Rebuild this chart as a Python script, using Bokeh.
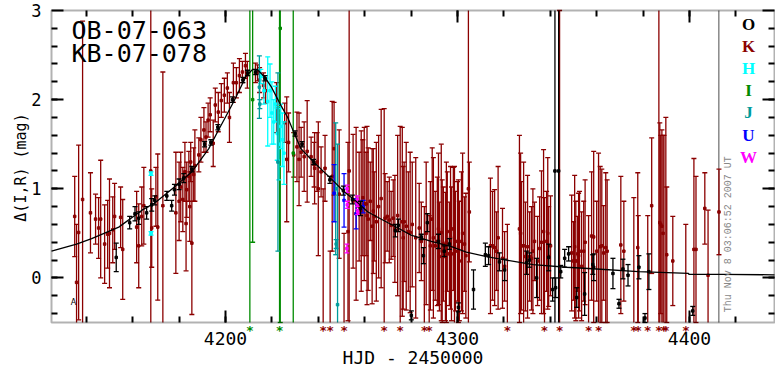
import numpy as np
from bokeh.plotting import figure
from bokeh.models import (Range1d, LinearAxis, FixedTicker, Label, BoxAnnotation)
from bokeh.core.properties import value
from bokeh.embed import file_html
from bokeh.resources import INLINE

# ---------------- data (HJD-2450000, delta mag, error) ----------------
k_t = [4135.0, 4135.8, 4136.7, 4138.4, 4141.8, 4144.0, 4145.3, 4146.2, 4147.9, 4149.2,
       4150.0, 4151.4, 4152.2, 4154.8, 4155.7, 4161.7, 4162.6, 4163.9, 4164.8, 4167.8,
       4168.2, 4170.0, 4170.8, 4173.0, 4178.6, 4180.0, 4180.7, 4181.6, 4182.5, 4183.0,
       4183.3, 4184.2, 4184.6, 4185.0, 4185.5, 4186.3, 4186.8, 4188.5, 4189.4, 4190.7,
       4191.6, 4192.5, 4193.4, 4194.7, 4195.6, 4196.9, 4198.2, 4199.5, 4200.8, 4201.7,
       4203.4, 4204.7, 4206.0, 4207.3, 4208.6, 4209.4, 4212.9, 4213.8, 4214.7, 4216.4,
       4217.3, 4222.0, 4225.5, 4226.4, 4227.2, 4229.4, 4230.8, 4231.7, 4232.6, 4233.9,
       4235.2, 4236.9, 4238.2, 4238.4, 4239.5, 4240.0, 4241.2, 4242.1, 4242.9, 4245.1,
       4246.0, 4246.8, 4249.0, 4251.1, 4252.8, 4253.3, 4255.0, 4256.3, 4257.6, 4259.8,
       4260.6, 4261.5, 4262.4, 4263.2, 4264.1, 4265.0, 4267.1, 4268.4, 4268.8, 4269.7,
       4270.6, 4271.4, 4272.3, 4275.3, 4276.2, 4277.0, 4277.9, 4278.8, 4279.6, 4283.5,
       4284.4, 4285.7, 4287.8, 4288.3, 4289.1, 4290.4, 4291.3, 4292.2, 4293.0, 4293.9,
       4294.8, 4295.6, 4296.5, 4297.4, 4298.2, 4299.1, 4300.0, 4300.8, 4301.7, 4303.0,
       4304.7, 4305.1, 4314.2, 4315.1, 4316.0, 4316.8, 4319.4, 4320.3, 4321.5, 4326.7,
       4327.6, 4328.5, 4329.3, 4331.1, 4331.9, 4333.2, 4334.5, 4335.4, 4337.1, 4337.5,
       4338.4, 4339.3, 4340.1, 4344.0, 4349.2, 4350.0, 4351.0, 4351.8, 4352.6, 4353.5,
       4354.4, 4356.5, 4357.8, 4358.7, 4360.0, 4360.8, 4362.2, 4363.0, 4363.9, 4370.4,
       4371.7, 4376.0, 4377.7, 4377.9, 4382.0, 4383.7, 4386.8, 4387.2, 4388.1, 4389.0,
       4389.8, 4390.2, 4392.8, 4398.4, 4401.9, 4402.8, 4406.6, 4408.0, 4412.7,
       # dense stretches after the peak
       4258.5, 4259.2, 4261.0, 4263.7, 4266.0, 4273.0, 4274.2, 4276.6, 4280.5, 4282.0,
       4286.5, 4289.6, 4291.8, 4293.4, 4295.2, 4297.0, 4298.7, 4300.4, 4302.2, 4303.6,
       4317.5, 4327.2, 4330.2, 4332.5, 4336.2, 4338.9, 4350.5, 4352.2, 4355.0, 4361.5,
       4364.5, 4387.6, 4388.6]
k_m = [0.69, -0.05, 0.51, 0.88, 0.73, 0.66, 0.56, 0.66, 0.38, 0.49,
       0.50, 0.54, 0.69, 0.68, 0.32, 0.57, 0.36, 0.69, 0.81, 1.20,
       0.56, 0.91, 0.57, 0.81, 0.73, 0.86, 1.02, 0.88, 1.19, 0.61,
       0.99, 1.14, 0.80, 1.30, 0.39, 1.16, 1.26, 1.38, 1.55, 1.66,
       1.58, 1.77, 1.83, 1.51, 1.94, 1.86, 1.99, 2.05, 2.13, 1.80,
       2.19, 2.19, 2.27, 2.31, 2.38, 2.28, 2.30, 2.30, 2.22, 2.16,
       2.10, 1.91, 1.74, 1.33, 1.52, 1.38, 1.47, 1.33, 1.41, 1.36,
       1.42, 1.36, 1.27, 1.23, 1.30, 1.00, 1.19, -0.80, 1.23, -1.20,
       1.14, 1.45, 0.94, -1.00, 0.52, 1.20, 0.86, 0.72, 0.80, 0.83,
       0.83, 0.66, 0.86, 0.58, 0.69, 0.63, 0.89, -1.00, 0.67, 0.69,
       0.65, 0.59, 0.67, -0.80, 0.63, 0.63, 0.58, 0.52, 0.51, 0.56,
       0.41, -0.90, -0.80, 0.36, 0.66, 0.36, 0.41, 0.24, 0.51, 0.38,
       0.24, 0.52, 0.27, 0.27, 0.55, 0.30, 0.41, 0.19, 0.41, 0.38,
       1.00, 0.74, 0.36, 0.36, 0.34, 0.30, 0.22, 0.13, -0.80, 0.55,
       0.36, 0.36, 0.24, 0.24, 0.22, 0.41, 0.19, 0.33, 0.52, -0.90,
       0.41, 0.24, 0.36, -0.80, 0.28, 0.19, 0.19, 0.27, 0.30, 0.13,
       0.30, -0.90, 0.47, 0.46, 0.30, -1.00, 0.36, 0.28, 0.34, 0.37,
       0.30, -0.90, 0.34, -0.90, -0.80, 0.81, -0.60, 0.62, 0.58, -0.90,
       -0.80, 0.26, 0.19, -0.90, 0.32, 0.32, 0.78, 0.03, 0.74,
       0.75, 0.90, 0.70, 0.75, 0.80, 0.55, 0.70, 0.45, 0.60, 0.45,
       0.50, 0.45, 0.55, 0.30, 0.40, 0.45, 0.35, 0.30, 0.50, 0.25,
       0.45, 0.50, 0.35, 0.30, 0.40, 0.50, 0.35, 0.25, 0.40, 0.35,
       0.30, 0.60, 0.50]
k_e = [0.45, 0.65, 0.98, 2.00, 0.45, 0.28, 0.34, 0.66, 0.44, 0.38,
       0.61, 0.37, 0.37, 0.34, 0.56, 0.40, 0.47, 0.33, 0.43, 2.50,
       0.44, 0.33, 0.82, 1.50, 0.68, 0.44, 0.39, 0.36, 0.33, 0.53,
       0.31, 0.28, 0.39, 0.22, 0.80, 0.30, 0.40, 0.19, 0.25, 0.25,
       0.17, 0.19, 0.19, 0.26, 0.19, 0.22, 0.19, 0.19, 0.17, 0.28,
       0.22, 0.17, 0.19, 0.12, 0.14, 0.15, 0.11, 0.09, 0.14, 0.14,
       0.14, 0.28, 0.22, 0.70, 0.33, 0.25, 0.39, 0.52, 0.28, 0.39,
       0.57, 0.22, 0.25, 0.40, 0.33, 0.75, 0.28, 1.80, 0.37, 1.50,
       0.84, 0.52, 0.72, 1.50, 1.00, 2.20, 0.75, 0.97, 0.61, 0.86,
       0.58, 0.80, 0.44, 0.87, 0.50, 0.89, 1.00, 2.90, 0.50, 0.39,
       0.48, 0.38, 0.43, 2.50, 1.06, 0.67, 0.94, 0.67, 0.90, 0.50,
       0.44, 1.70, 1.50, 0.72, 0.80, 0.61, 0.72, 0.61, 0.99, 0.64,
       0.72, 0.67, 0.58, 0.75, 0.69, 0.67, 0.67, 0.67, 0.78, 0.53,
       2.20, 0.56, 0.76, 0.61, 0.65, 0.44, 0.56, 0.39, 1.40, 1.05,
       0.72, 0.94, 0.61, 0.50, 0.58, 0.44, 0.50, 0.58, 0.92, 1.80,
       0.56, 0.56, 0.56, 3.80, 0.65, 0.44, 0.67, 0.42, 0.67, 0.61,
       0.56, 1.60, 0.72, 0.96, 0.56, 2.40, 0.86, 0.53, 0.84, 0.77,
       0.56, 1.80, 0.84, 1.60, 1.50, 0.76, 3.90, 1.12, 1.08, 2.50,
       2.60, 0.76, 0.50, 1.50, 1.02, 0.82, 0.40, 0.73, 0.48,
       0.90, 0.65, 1.00, 0.70, 0.80, 0.60, 0.90, 0.80, 0.70, 0.90,
       0.80, 0.90, 0.85, 0.80, 0.90, 0.80, 0.90, 0.80, 0.90, 0.70,
       0.80, 0.90, 0.80, 0.70, 0.80, 0.85, 0.80, 0.70, 0.70, 0.90,
       0.80, 1.00, 1.10]

o_t = [4152.9, 4158.7, 4161.0, 4162.6, 4166.0, 4168.2, 4169.5, 4174.7, 4176.8, 4178.0,
       4180.0, 4182.0, 4185.5, 4191.0, 4193.7, 4196.7, 4203.0, 4207.5, 4209.5, 4213.0,
       4217.0, 4230.0, 4233.0, 4238.0, 4245.0, 4250.8, 4254.7, 4258.2, 4273.2, 4274.5,
       4280.1, 4284.4, 4285.3, 4287.0, 4291.8, 4294.3, 4296.5, 4300.4, 4306.9, 4312.0,
       4313.4, 4318.1, 4320.3, 4329.8, 4331.0, 4334.1, 4339.3, 4341.0, 4342.0, 4342.3,
       4343.6, 4344.5, 4346.2, 4347.9, 4351.4, 4354.8, 4358.3, 4358.7, 4367.0, 4369.6,
       4371.3, 4373.5, 4378.2, 4380.8, 4382.5, 4401.4]
o_m = [0.23, 0.62, 0.72, 0.67, 0.73, 0.82, 0.87, 0.92, 0.81, 0.99,
       1.05, 1.12, 1.22, 1.50, 1.52, 1.69, 2.00, 2.22, 2.30, 2.31,
       2.24, 1.62, 1.50, 1.30, 1.10, 0.98, 0.88, 0.78, 0.53, 0.59,
       -0.42, 0.46, 0.25, 0.62, 0.41, 0.30, 0.38, -0.33, -0.13, 0.26,
       0.25, 0.18, 0.09, 0.17, 0.20, 0.00, 0.23, -0.13, 1.20, -0.11,
       1.20, 0.07, 0.22, 0.27, -0.22, -0.18, 0.15, 0.12, 0.05, -0.29,
       0.10, 0.03, 0.12, -0.45, 0.07, -0.37]
o_e = [0.16, 0.07, 0.08, 0.07, 0.07, 0.07, 0.05, 0.05, 0.06, 0.06,
       0.06, 0.05, 0.03, 0.03, 0.03, 0.03, 0.03, 0.03, 0.03, 0.03,
       0.03, 0.03, 0.03, 0.03, 0.04, 0.05, 0.05, 0.08, 0.07, 0.07,
       0.05, 0.03, 0.09, 0.10, 0.08, 0.06, 0.06, 0.05, 0.22, 0.13,
       0.10, 0.10, 0.12, 0.13, 0.08, 0.22, 0.15, 0.13, 3.00, 0.11,
       3.00, 0.07, 0.10, 0.08, 0.11, 0.24, 0.11, 0.15, 0.17, 0.05,
       0.11, 0.12, 0.13, 0.05, 0.20, 0.05]

h_t = [4167.9, 4167.9, 4215.2, 4216.6, 4218.2, 4219.2, 4220.0, 4220.8, 4221.5, 4222.3,
       4223.0, 4223.8, 4224.5, 4225.2]
h_m = [1.17, 0.50, 2.26, 2.10, 1.98, 2.10, 1.85, 1.75, 1.95, 1.62, 1.50, 1.70, 1.55, 1.40]
h_e = [0.02, 0.02, 0.08, 0.15, 0.50, 0.30, 0.35, 0.25, 0.20, 0.30, 0.40, 0.25, 0.30, 0.35]

i_t = [4210.5, 4211.7, 4223.3, 4223.6, 4229.2]
i_m = [-1.00, 2.00, -1.00, 2.80, 1.40]
i_e = [4.50, 1.60, 4.50, 3.30, 2.50]

j_t = [4214.6, 4214.8, 4222.6, 4247.5, 4247.7, 4248.3]
j_m = [2.14, 1.95, 1.30, 1.00, 0.38, -0.30]
j_e = [0.35, 0.05, 1.00, 0.74, 0.05, 1.80]

u_t = [4246.8, 4251.1, 4256.3, 4259.3]
u_m = [0.95, 0.87, 0.72, 0.80]
u_e = [0.32, 0.30, 0.17, 0.07]

w_t = [4252.4, 4252.5, 4252.3, 4256.8, 4256.9, 4257.0]
w_m = [1.00, 0.82, 0.33, 0.88, 0.83, 0.74]
w_e = [0.04, 0.04, 0.05, 0.04, 0.03, 0.03]

model_t = [4125.0, 4135.8, 4142.3, 4154.0, 4164.0, 4169.5, 4178.0, 4185.5, 4192.8, 4197.0,
           4199.5, 4203.8, 4208.8, 4211.7, 4214.0, 4216.7, 4219.6, 4224.0, 4226.8, 4229.5,
           4232.5, 4238.0, 4246.8, 4251.0, 4256.3, 4261.4, 4267.8, 4274.3, 4280.0, 4288.7,
           4297.4, 4303.8, 4312.5, 4321.0, 4332.6, 4347.0, 4360.0, 4378.0, 4399.6, 4399.7,
           4414.0, 4436.0]
model_m = [0.30, 0.38, 0.44, 0.57, 0.76, 0.84, 1.02, 1.19, 1.45, 1.66,
           1.78, 1.99, 2.26, 2.34, 2.33, 2.26, 2.15, 1.93, 1.80, 1.63,
           1.45, 1.30, 1.08, 0.97, 0.86, 0.74, 0.65, 0.56, 0.48, 0.41,
           0.35, 0.29, 0.24, 0.20, 0.15, 0.12, 0.10, 0.07, 0.05, 0.04,
           0.04, 0.035]

series_names = ["O", "K", "H", "I", "J", "U", "W"]
series_colors = ["#000000", "#8b0000", "#00ffff", "#008b00", "#009b9b", "#0000ff", "#ff00ff"]

x_major = [4200, 4300, 4400]
y_major = [0, 1, 2, 3]

now_hjd = 4412.63
stamp = "Thu Nov  8 03:06:52 2007 UT"
event_names = ["OB-07-063", "KB-07-078"]

# ---------------- layout (box in data units, pixel scale) ----------------
W, H = 775, 368
BOX_L, BOX_T, BOX_R, BOX_B = 51, 10, 774, 322   # box edges on the canvas (px)
X0 = 4125.0
Y0, Y1 = -0.5, 3.0
XS = 2.32                                         # px per day
YS = (BOX_B - BOX_T) / (Y1 - Y0)                  # px per mag
X1 = X0 + (BOX_R - BOX_L) / XS

xr = Range1d(X0 - BOX_L / XS, X0 + (W - BOX_L) / XS)
yr = Range1d(Y1 - (H - BOX_T) / YS, Y1 + BOX_T / YS)


def cx(px):      # canvas pixel -> data x
    return X0 + (px - BOX_L) / XS


def cy(py):      # canvas pixel -> data y
    return Y1 - (py - BOX_T) / YS


p = figure(width=W, height=H, output_backend="svg", toolbar_location=None,
           x_range=xr, y_range=yr, x_axis_location=None, y_axis_location=None,
           min_border=0, min_border_left=0, min_border_right=0,
           min_border_top=0, min_border_bottom=0)
p.grid.grid_line_color = None
p.outline_line_color = None
p.background_fill_color = "white"
p.border_fill_color = "white"

x_minor = list(np.arange(4140, X1, 20))
y_minor = list(np.round(np.arange(-0.4, 3.0, 0.2), 2))


def tick_axis(side, loc, majors, minors, labels, font_size="18px"):
    ax = LinearAxis(fixed_location=loc,
                    ticker=FixedTicker(ticks=majors if labels else [], minor_ticks=minors))
    ax.axis_line_color = None
    ax.major_tick_in = 12
    ax.major_tick_out = 0
    ax.minor_tick_out = 0
    ax.major_tick_line_width = 2
    ax.minor_tick_line_width = 2
    ax.major_label_text_font = "DejaVu Sans Mono"
    ax.major_label_text_font_size = font_size
    ax.major_label_text_color = "black"
    p.add_layout(ax, side)
    return ax


bx = tick_axis("below", Y0, x_major, x_minor, True)
bx.minor_tick_in = 6
bx.major_label_standoff = 9
lx = tick_axis("left", X0, y_major, y_minor, True, "17px")
lx.minor_tick_in = 6
lx.major_label_standoff = 10
for side, loc, mj, mn in [("above", Y1, x_major, x_minor), ("right", X1, y_major, y_minor)]:
    a1 = tick_axis(side, loc, [], mn, False)
    a1.minor_tick_in = 6
    a2 = tick_axis(side, loc, [], mj, False)
    a2.minor_tick_in = 12

p.add_layout(BoxAnnotation(left=X0, right=X1, bottom=Y0, top=Y1, fill_alpha=0,
                           line_color="black", line_width=2, level="overlay"))

# current-time marker
p.segment([now_hjd], [Y0], [now_hjd], [Y1], line_color="#888888", line_width=1.5)

stars_x, stars_c = [], []


def draw(t, m, e, color, lw=1.3):
    t = np.asarray(t, float)
    m = np.asarray(m, float)
    e = np.asarray(e, float)
    lo, hi = m - e, m + e
    vis = (hi > Y0) & (lo < Y1)
    p.segment(t[vis], np.clip(lo[vis], Y0, Y1), t[vis], np.clip(hi[vis], Y0, Y1),
              line_color=color, line_width=lw)
    ct = np.r_[t, t]
    cyv = np.r_[lo, hi]
    cin = (cyv >= Y0) & (cyv <= Y1)
    p.scatter(ct[cin], cyv[cin], marker="dash", size=5, line_color=color, line_width=lw)
    pin = (m >= Y0) & (m <= Y1)
    p.scatter(t[pin], m[pin], marker="square", size=2.5, color=color)
    for tt, mm in zip(t, m):
        if mm < Y0:
            stars_x.append(tt)
            stars_c.append(color)


draw(k_t, k_m, k_e, series_colors[1])
draw(i_t, i_m, i_e, series_colors[3])
draw(h_t, h_m, h_e, series_colors[2])
draw(j_t, j_m, j_e, series_colors[4])
draw(u_t, u_m, u_e, series_colors[5])
draw(w_t, w_m, w_e, series_colors[6])
draw(o_t, o_m, o_e, series_colors[0])

# model curve (cut at the box edge)
mt = np.asarray(model_t, float)
mmv = np.asarray(model_m, float)
keep = mt < X1
p.line(np.r_[mt[keep], X1], np.r_[mmv[keep], np.interp(X1, mt, mmv)],
       line_color="black", line_width=1.3)

# off-scale markers below the box
p.text(x=stars_x, y=[cy(330)] * len(stars_x), text=["*"] * len(stars_x),
       text_color=stars_c, text_align="center", text_baseline="alphabetic",
       text_font=value("DejaVu Sans"), text_font_size="13px", text_font_style="bold")

# event names
for i, nm in enumerate(event_names):
    p.add_layout(Label(x=cx(71), y=cy(30 + 22.5 * i), text=nm,
                       text_font="DejaVu Sans Mono", text_font_size="25px",
                       text_color="black", text_baseline="middle"))

# legend letters
for i, (nm, col) in enumerate(zip(series_names, series_colors)):
    p.add_layout(Label(x=cx(748), y=cy(23.5 + 22.2 * i), text=nm,
                       text_font="Liberation Serif", text_font_size="17px",
                       text_font_style="bold", text_color=col,
                       text_align="center", text_baseline="middle"))

# time stamp
p.add_layout(Label(x=cx(727.5), y=cy(311.7), text=stamp, angle=np.pi / 2,
                   text_font="Liberation Mono", text_font_size="10px", text_color="#888888",
                   text_align="left", text_baseline="middle"))

# small corner mark
p.add_layout(Label(x=cx(73), y=cy(302), text="A", text_font="DejaVu Sans",
                   text_font_size="8px", text_color="black", text_align="center",
                   text_baseline="middle"))

# axis titles
p.add_layout(Label(x=cx(412.5), y=cy(356.5), text="HJD - 2450000",
                   text_font="DejaVu Sans Mono", text_font_size="18px", text_color="black",
                   text_align="center", text_baseline="middle"))
p.add_layout(Label(x=cx(20), y=cy(167), text="\u0394(I,R) (mag)",
                   angle=np.pi / 2, text_font="DejaVu Sans Mono", text_font_size="15px",
                   text_color="black", text_align="center", text_baseline="middle"))

open("out.html", "w").write(file_html(p, INLINE))
